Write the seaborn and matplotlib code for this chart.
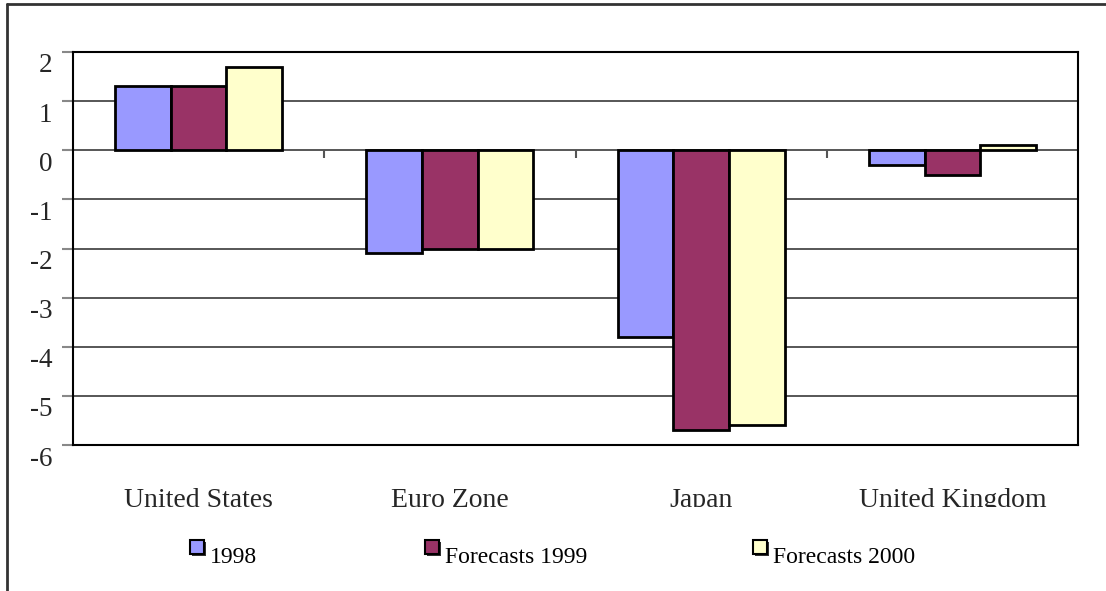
import matplotlib
matplotlib.use("Agg")
import matplotlib.pyplot as plt
from matplotlib.patches import Rectangle
from matplotlib.lines import Line2D
from matplotlib.transforms import Bbox, TransformedBbox, ScaledTranslation
import seaborn as sns
import pandas as pd

# Real GDP growth outlook by region (%)
countries = ["United States", "Euro Zone", "Japan", "United Kingdom"]
series_names = ["1998", "Forecasts 1999", "Forecasts 2000"]
v1998 = [1.3, -2.1, -3.8, -0.3]
f1999 = [1.3, -2.0, -5.7, -0.5]
f2000 = [1.7, -2.0, -5.6, 0.1]
y_ticks = [2, 1, 0, -1, -2, -3, -4, -5, -6]
colors = ["#9999FF", "#993366", "#FFFFCC"]

df = pd.DataFrame({
    "country": countries * 3,
    "series": [series_names[0]] * 4 + [series_names[1]] * 4 + [series_names[2]] * 4,
    "value": v1998 + f1999 + f2000,
})

sns.set_theme(style="white")
plt.rcParams["font.family"] = ["Liberation Serif", "DejaVu Serif"]
plt.rcParams["axes.unicode_minus"] = False

fig = plt.figure(figsize=(11.06, 5.91), dpi=100)
W, H = 1106, 591
ax = fig.add_axes([73 / W, 1 - 445 / H, (1078 - 73) / W, (445 - 52) / H])

sns.barplot(data=df, x="country", y="value", hue="series", order=countries,
            hue_order=series_names, palette=colors, width=0.665,
            edgecolor="black", linewidth=2, saturation=1, ax=ax, legend=False,
            zorder=3)

ax.set_xlim(-0.5, 3.5)
ax.set_ylim(-6, 2)
ax.set_yticks(y_ticks)
ax.set_yticklabels([str(t) for t in y_ticks], fontsize=19.5)
ax.set_xlabel("")
ax.set_ylabel("")

# horizontal gridlines
ax.grid(axis="y", color="#3a3a3a", linewidth=1.2, zorder=0)
ax.grid(axis="x", visible=False)
for s in ax.spines.values():
    s.set_color("black")
    s.set_linewidth(1.5)

ax.tick_params(axis="y", direction="out", length=8, width=1.5, color="#888888",
               pad=7, left=True)
for lbl in ax.get_yticklabels():
    lbl.set_transform(lbl.get_transform() + ScaledTranslation(0, -0.11, fig.dpi_scale_trans))

# category separators on the zero line
ax.vlines([0.5, 1.5, 2.5], 0, -0.16, color="#555555", linewidth=1.5, zorder=2)

# category labels below the plot, cut off at the lower edge of their band
ax.tick_params(axis="x", length=0, pad=31, labelsize=20, bottom=False)
clip = TransformedBbox(Bbox([[0, 1 - 507 / H], [1, 1]]), fig.transFigure)
for lbl in ax.get_xticklabels():
    lbl.set_clip_on(True)
    lbl.set_clip_box(clip)

# legend row
legend_x = [190, 425, 753]
for xpx, name, col in zip(legend_x, series_names, colors):
    fig.patches.append(Rectangle(((xpx + 2) / W, 1 - 556 / H), 14 / W, 14 / H,
                                 transform=fig.transFigure, facecolor="#333333",
                                 edgecolor="none"))
    fig.patches.append(Rectangle((xpx / W, 1 - 554 / H), 14 / W, 14 / H,
                                 transform=fig.transFigure, facecolor=col,
                                 edgecolor="black", linewidth=1.5))
    fig.text((xpx + 20) / W, 1 - 563 / H, name, fontsize=17, ha="left",
             va="baseline", color="black")

# outer frame (left and top edges)
fig.lines.append(Line2D([7 / W, 7 / W], [0, 1 - 4 / H], transform=fig.transFigure,
                        color="#333333", linewidth=2))
fig.lines.append(Line2D([7 / W, 1], [1 - 4 / H, 1 - 4 / H], transform=fig.transFigure,
                        color="#333333", linewidth=2))

fig.savefig("out.png", dpi=100, facecolor="white")
